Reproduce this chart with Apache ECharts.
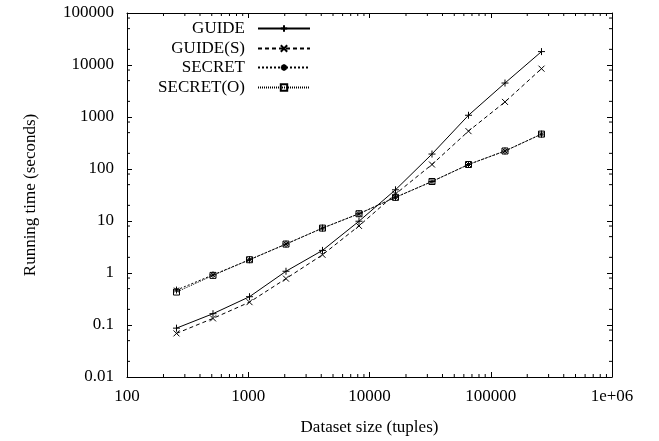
<!DOCTYPE html>
<html>
<head>
<meta charset="utf-8">
<script src="https://cdn.jsdelivr.net/npm/echarts@6/dist/echarts.min.js"></script>
<style>
html,body{margin:0;padding:0;background:#fff;}
#c{width:659px;height:441px;}
</style>
</head>
<body>
<div id="c"></div>
<script>
// ---- data ----
var sizes = [256, 512, 1024, 2048, 4096, 8192, 16384, 32768, 65536, 131072, 262144];
var guide = [0.087, 0.165, 0.35, 1.08, 2.72, 9.9, 39.8, 194, 1080, 4500, 18100];
var guideS = [0.069, 0.134, 0.275, 0.78, 2.24, 8.05, 33, 122, 535, 1950, 8500];
var secret = [0.47, 0.92, 1.8, 3.6, 7.3, 13.8, 28.5, 57.5, 122, 222, 469];
var secretO = [0.43, 0.90, 1.8, 3.6, 7.3, 13.8, 28.5, 57.5, 122, 222, 469];
var seriesNames = ['GUIDE', 'GUIDE(S)', 'SECRET', 'SECRET(O)'];
var xMinorTicks = [200,300,400,500,600,700,800,900,2000,3000,4000,5000,6000,7000,8000,9000,
  20000,30000,40000,50000,60000,70000,80000,90000,200000,300000,400000,500000,600000,700000,800000,900000];
var yMinorTicks = [0.02,0.05,0.08,0.2,0.5,0.8,2,5,8,20,50,80,200,500,800,2000,5000,8000,20000,50000,80000];
var xMin = 100, xMax = 1e6, yMin = 0.01, yMax = 100000;

function pairs(ys){ return sizes.map(function(x,i){ return [x, ys[i]]; }); }

var FONT = 'Liberation Serif';
var SYM_PLUS = 'path://M5,0L5,10M0,5L10,5';
var SYM_CROSS = 'path://M0,0L10,10M10,0L0,10';
var SYM_STAR = 'path://M5,0L5,10M0,5L10,5M1.5,1.5L8.5,8.5M8.5,1.5L1.5,8.5';
var SYM_BOX = 'path://M0,0L10,0L10,10L0,10Z';

function lineSeries(name, ys, sym, size, dash, z){
  return {
    name: name, type: 'line', data: pairs(ys),
    symbol: sym, symbolSize: size, showSymbol: true, showAllSymbol: true,
    lineStyle: {color: '#000', width: 1, type: dash},
    itemStyle: {color: '#000', borderColor: '#000', borderWidth: 1},
    emphasis: {disabled: true}, animation: false, z: z
  };
}

var series = [
  lineSeries(seriesNames[0], guide, SYM_PLUS, 7, 'solid', 3),
  lineSeries(seriesNames[1], guideS, SYM_CROSS, 6, [4,3], 3),
  lineSeries(seriesNames[2], secret, SYM_STAR, 7, [2,2], 3),
  lineSeries(seriesNames[3], secretO, SYM_BOX, 6, [1,1], 4)
];
series[3].itemStyle = {color: 'rgba(0,0,0,0)', borderColor: '#000', borderWidth: 1};

// minor ticks (on all four sides of the frame)
series.push({
  type: 'custom', silent: true, animation: false, clip: false, z: 5,
  data: xMinorTicks.map(function(v){ return [v, yMin]; }),
  renderItem: function(params, api){
    var b = api.coord([api.value(0), yMin]);
    var t = api.coord([api.value(0), yMax]);
    var st = {stroke: '#000', lineWidth: 1};
    return {type: 'group', children: [
      {type: 'line', shape: {x1: b[0], y1: b[1], x2: b[0], y2: b[1]-3}, style: st},
      {type: 'line', shape: {x1: t[0], y1: t[1], x2: t[0], y2: t[1]+3}, style: st}
    ]};
  }
});
series.push({
  type: 'custom', silent: true, animation: false, clip: false, z: 5,
  data: yMinorTicks.map(function(v){ return [xMin, v]; }),
  renderItem: function(params, api){
    var l = api.coord([xMin, api.value(1)]);
    var r = api.coord([xMax, api.value(1)]);
    var st = {stroke: '#000', lineWidth: 1};
    return {type: 'group', children: [
      {type: 'line', shape: {x1: l[0], y1: l[1], x2: l[0]+3, y2: l[1]}, style: st},
      {type: 'line', shape: {x1: r[0], y1: r[1], x2: r[0]-3, y2: r[1]}, style: st}
    ]};
  }
});

var legendTops = [20, 40, 59, 79];
var legends = seriesNames.map(function(n, i){
  return {
    data: [n], orient: 'horizontal', align: 'right', right: 348, top: legendTops[i],
    padding: 0, itemWidth: 52, itemHeight: 8, selectedMode: false,
    textStyle: {fontFamily: FONT, fontSize: 17, color: '#000', padding: [0, 8, 0, 0]}
  };
});

function fmtY(v){
  var s = Number(v.toPrecision(1));
  return String(s);
}
function fmtX(v){
  var s = Number(v.toPrecision(1));
  return s >= 1e6 ? '1e+06' : String(s);
}

var axisTxt = {fontFamily: FONT, fontSize: 17, color: '#000'};
var option = {
  backgroundColor: '#fff',
  animation: false,
  grid: {left: 127, right: 47, top: 13, bottom: 62, containLabel: false},
  legend: legends,
  xAxis: [{
    type: 'log', logBase: 10, min: xMin, max: xMax, interval: 1,
    name: 'Dataset size (tuples)', nameLocation: 'middle', nameGap: 42,
    nameTextStyle: axisTxt,
    axisLine: {show: true, onZero: false, lineStyle: {color: '#000', width: 1}},
    axisTick: {show: true, inside: true, length: 5, lineStyle: {color: '#000'}},
    axisLabel: Object.assign({margin: 11, formatter: fmtX}, axisTxt),
    splitLine: {show: false}, minorTick: {show: false}
  }, {
    type: 'log', logBase: 10, min: xMin, max: xMax, interval: 1, position: 'top',
    axisLine: {show: true, onZero: false, lineStyle: {color: '#000', width: 1}},
    axisTick: {show: true, inside: true, length: 5, lineStyle: {color: '#000'}},
    axisLabel: {show: false}, splitLine: {show: false}
  }],
  yAxis: [{
    type: 'log', logBase: 10, min: yMin, max: yMax, interval: 1,
    name: 'Running time (seconds)', nameLocation: 'middle', nameGap: 88,
    nameTextStyle: axisTxt,
    axisLine: {show: true, onZero: false, lineStyle: {color: '#000', width: 1}},
    axisTick: {show: true, inside: true, length: 5, lineStyle: {color: '#000'}},
    axisLabel: Object.assign({margin: 13, formatter: fmtY}, axisTxt),
    splitLine: {show: false}, minorTick: {show: false}
  }, {
    type: 'log', logBase: 10, min: yMin, max: yMax, interval: 1, position: 'right',
    axisLine: {show: true, onZero: false, lineStyle: {color: '#000', width: 1}},
    axisTick: {show: true, inside: true, length: 5, lineStyle: {color: '#000'}},
    axisLabel: {show: false}, splitLine: {show: false}
  }],
  series: series
};

var chart = echarts.init(document.getElementById('c'), null, {renderer: 'canvas'});
chart.setOption(option);
</script>
</body>
</html>
